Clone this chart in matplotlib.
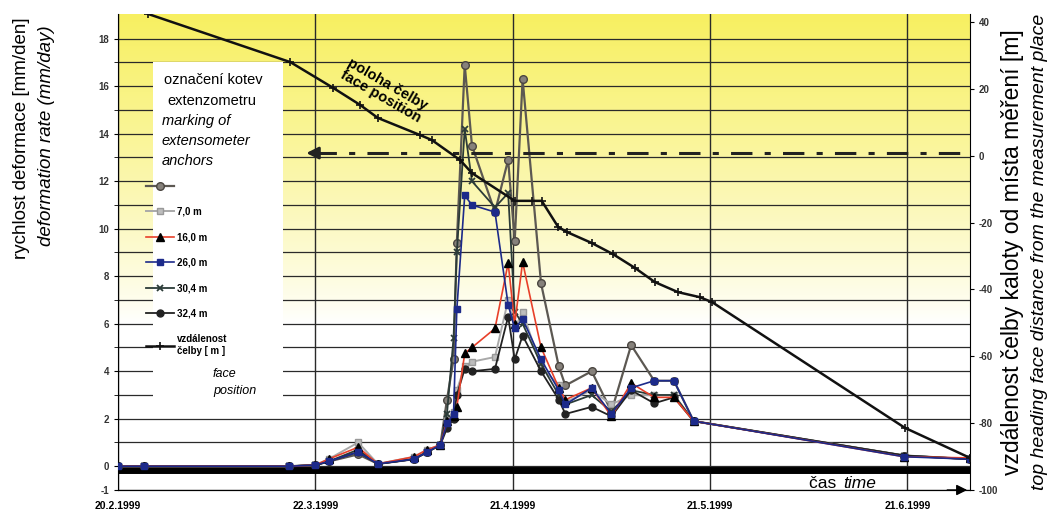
import numpy as np
import matplotlib.pyplot as plt
from matplotlib.patches import Rectangle

plt.rcParams['font.family'] = ['Liberation Sans', 'DejaVu Sans']
plt.rcParams['axes.unicode_minus'] = False

# dny od 20.2.1999
dny = [0, 4, 26, 30, 32, 36.5, 39.5, 45, 47, 49, 50, 51, 51.5, 52.7, 53.8, 57.3,
       59.3, 60.3, 61.5, 64.3, 67, 68, 72, 75, 78, 81.5, 84.5, 87.5, 119.5, 129.5]

# rychlost deformace [mm/den] pro jednotlive kotvy
kotva_0 = [0, 0, 0, 0.05, 0.2, 0.5, 0.1, 0.3, 0.6, 0.9, 2.8, 4.5, 9.4, 16.9, 13.5, 10.7,
           12.9, 9.5, 16.3, 7.7, 4.2, 3.4, 4.0, 2.3, 5.1, 3.6, 3.6, 1.9, 0.45, 0.3]
kotva_7 = [0, 0, 0, 0.05, 0.3, 1.0, 0.1, 0.4, 0.7, 0.9, 2.0, 2.3, 3.2, 4.2, 4.4, 4.6,
           7.0, 5.8, 6.5, 4.2, 3.4, 2.7, 3.2, 2.6, 3.0, 3.0, 3.0, 1.9, 0.45, 0.3]
kotva_16 = [0, 0, 0, 0.05, 0.3, 0.8, 0.1, 0.4, 0.7, 0.9, 1.9, 2.1, 2.5, 4.75, 5.0, 5.8,
            8.55, 6.0, 8.6, 5.0, 3.3, 2.8, 3.3, 2.1, 3.5, 2.9, 2.9, 1.9, 0.4, 0.35]
kotva_26 = [0, 0, 0, 0.05, 0.2, 0.6, 0.1, 0.3, 0.6, 0.9, 1.8, 2.2, 6.6, 11.4, 11.0, 10.7,
            6.8, 5.8, 6.2, 4.5, 3.2, 2.6, 3.3, 2.2, 3.3, 3.6, 3.6, 1.9, 0.4, 0.3]
kotva_30 = [0, 0, 0, 0.05, 0.2, 0.7, 0.1, 0.3, 0.6, 0.9, 2.2, 5.4, 9.0, 14.2, 12.0, 10.9,
            11.5, 6.5, 6.0, 4.3, 3.0, 2.6, 3.0, 2.3, 3.2, 3.0, 3.0, 1.9, 0.45, 0.3]
kotva_32 = [0, 0, 0, 0.05, 0.2, 0.6, 0.1, 0.3, 0.6, 0.9, 1.6, 2.0, 3.0, 4.1, 4.0, 4.1,
            6.3, 4.5, 5.5, 4.0, 2.8, 2.2, 2.5, 2.1, 3.2, 2.65, 2.9, 1.9, 0.45, 0.3]

# vzdalenost celby od mista mereni [m]
cela_dny = [4.6, 26.2, 32.7, 36.8, 39.5, 45.9, 47.7, 52.0, 53.8, 60.3, 62.9, 64.4,
            66.9, 68.2, 72.0, 75.2, 78.6, 81.6, 85.1, 88.4, 90.3, 119.6, 129.5]
cela_vzd = [42.4, 28.0, 20.3, 15.2, 11.3, 6.2, 4.7, -1.3, -5.2, -13.5, -13.5, -13.5,
            -21.3, -22.8, -26.1, -29.4, -33.6, -37.8, -40.8, -42.3, -43.8, -81.4, -90.4]

datum_pozice = [0, 30, 60, 90, 120]
datum_popisky = ['20.2.1999', '22.3.1999', '21.4.1999', '21.5.1999', '21.6.1999']
legenda = ['', '7,0 m', '16,0 m', '26,0 m', '30,4 m', '32,4 m', 'vzdálenost\nčelby [ m ]']

W, H = 1051, 515
fig = plt.figure(figsize=(W / 100, H / 100), dpi=100)
ax = fig.add_axes([118 / W, 25 / H, 852 / W, 476 / H])

# zluty prechod pozadi
t = np.linspace(0, 1, 256)
k = np.clip((t - 0.35) / 0.65, 0, 1) ** 0.85
top = np.array([0.97, 0.94, 0.38])
rgb = 1 - k[:, None] * (1 - top)
ax.imshow(rgb[:, None, :], extent=[0, 1, 0, 1], transform=ax.transAxes,
          aspect='auto', origin='lower', zorder=0)

ax.set_xlim(0, 129.5)
ax.set_ylim(-1, 19.04)
ax.set_axisbelow(True)
ax.set_yticks([-1] + list(range(0, 19, 2)))
ax.set_yticks(range(1, 19, 2), minor=True)
ax.yaxis.grid(True, which='both', color='#2a2a2a', lw=0.9)
ax.set_xticks(datum_pozice)
ax.set_xticklabels(datum_popisky)
ax.xaxis.grid(True, color='#2a2a2a', lw=1.0)
ax.tick_params(axis='y', which='both', length=3, labelsize=7, labelcolor='#333')
ax.tick_params(axis='x', length=0, labelsize=7.5, pad=8)
for lab in ax.get_xticklabels() + ax.get_yticklabels():
    lab.set_fontweight('bold')
for s in ['top', 'right']:
    ax.spines[s].set_visible(False)

# bily podklad legendy
ax.add_patch(Rectangle((35 / 852, 80 / 476), 130 / 852, 348 / 476, transform=ax.transAxes,
                       facecolor='white', edgecolor='none', zorder=1))

# silna casova osa
ax.axhline(-0.17, color='black', lw=5, zorder=2)

h0, = ax.plot(dny, kotva_0, color='#5c5852', lw=1.6, marker='o', ms=5.5,
              mfc='#86817b', mec='#4a4540', zorder=3)
h7, = ax.plot(dny, kotva_7, color='#a9a9a9', lw=1.4, marker='s', ms=4.5,
              mfc='#bdbdbd', mec='#999999', zorder=3)
h16, = ax.plot(dny, kotva_16, color='#e8402a', lw=1.2, marker='^', ms=5.5,
               mfc='black', mec='black', zorder=4)
h26, = ax.plot(dny, kotva_26, color='#1c2a8a', lw=1.2, marker='s', ms=4,
               mfc='#1c2a8a', mec='#1c2a8a', zorder=4)
h30, = ax.plot(dny, kotva_30, color='#2b3b38', lw=1.3, marker='x', ms=4.5,
               mew=1.3, zorder=3)
h32, = ax.plot(dny, kotva_32, color='#222222', lw=1.3, marker='o', ms=5,
               mfc='#222222', mec='#222222', zorder=3)

ax2 = ax.twinx()
ax2.set_ylim(-100, 42.4)
ax2.set_yticks(range(-100, 41, 20))
ax2.tick_params(axis='y', length=3, labelsize=7, labelcolor='#333')
for lab in ax2.get_yticklabels():
    lab.set_fontweight('bold')
ax2.spines['top'].set_visible(False)
ax2.spines['left'].set_visible(False)

hc, = ax2.plot(cela_dny, cela_vzd, color='#111111', lw=1.8, marker='+', ms=6,
               mew=1.2, zorder=5)

# poloha mista mereni (0 m) se sipkou
ax2.plot([30, 128], [0.8, 0.8], color='#222222', lw=2.2, ls=(0, (7, 4, 2, 4)))
ax2.annotate('', xy=(28.2, 0.8), xytext=(31, 0.8),
             arrowprops=dict(arrowstyle='-|>', color='#222222', lw=2, mutation_scale=18))

# sipka casove osy
ax.annotate('', xy=(1.0, 0), xytext=(0.97, 0), xycoords='axes fraction',
            arrowprops=dict(arrowstyle='-|>', color='black', lw=1, mutation_scale=16))
ax.text(105, -0.72, 'čas ', fontsize=12.5, ha='left', va='center', zorder=6)
ax.text(110.3, -0.72, 'time', fontsize=12.5, style='italic', ha='left', va='center', zorder=6)

ax2.text(40.5, 19.5, 'poloha čelby\nface position', rotation=-30, fontsize=10.5,
         fontweight='bold', ha='center', va='center', linespacing=0.95, zorder=6)

leg = ax2.legend([h0, h7, h16, h26, h30, h32, hc], legenda,
                 loc='upper left', bbox_to_anchor=(146 / W, 1 - 181 / H),
                 bbox_transform=fig.transFigure, frameon=False, fontsize=7,
                 handlelength=2.9, handletextpad=0.3, labelspacing=1.6,
                 borderpad=0, borderaxespad=0)
for txt in leg.get_texts():
    txt.set_fontweight('bold')

# texty legendy
def fx(x):
    return x / W


def fy(y):
    return 1 - y / H


fig.text(fx(164), fy(80), 'označení kotev', fontsize=10.5, va='center')
fig.text(fx(167), fy(101), 'extenzometru', fontsize=10.5, va='center')
fig.text(fx(162), fy(121), 'marking of', fontsize=10.5, style='italic', va='center')
fig.text(fx(162), fy(141), 'extensometer', fontsize=10.5, style='italic', va='center')
fig.text(fx(162), fy(161), 'anchors', fontsize=10.5, style='italic', va='center')
fig.text(fx(213), fy(374), 'face', fontsize=9, style='italic', va='center')
fig.text(fx(213), fy(391), 'position', fontsize=9, style='italic', va='center')

# popisy os
fig.text(fx(22), fy(138), 'rychlost deformace [mm/den]', rotation=90, fontsize=13.5,
         ha='center', va='center')
fig.text(fx(47), fy(136), 'deformation rate (mm/day)', rotation=90, fontsize=13.5,
         style='italic', ha='center', va='center')
fig.text(fx(1013), fy(252), 'vzdálenost čelby kaloty od místa měření [m]', rotation=90,
         fontsize=16.5, ha='center', va='center')
fig.text(fx(1039), fy(252), 'top heading face distance from the measurement place',
         rotation=90, fontsize=14, style='italic', ha='center', va='center')

fig.savefig('out.png', dpi=100)
